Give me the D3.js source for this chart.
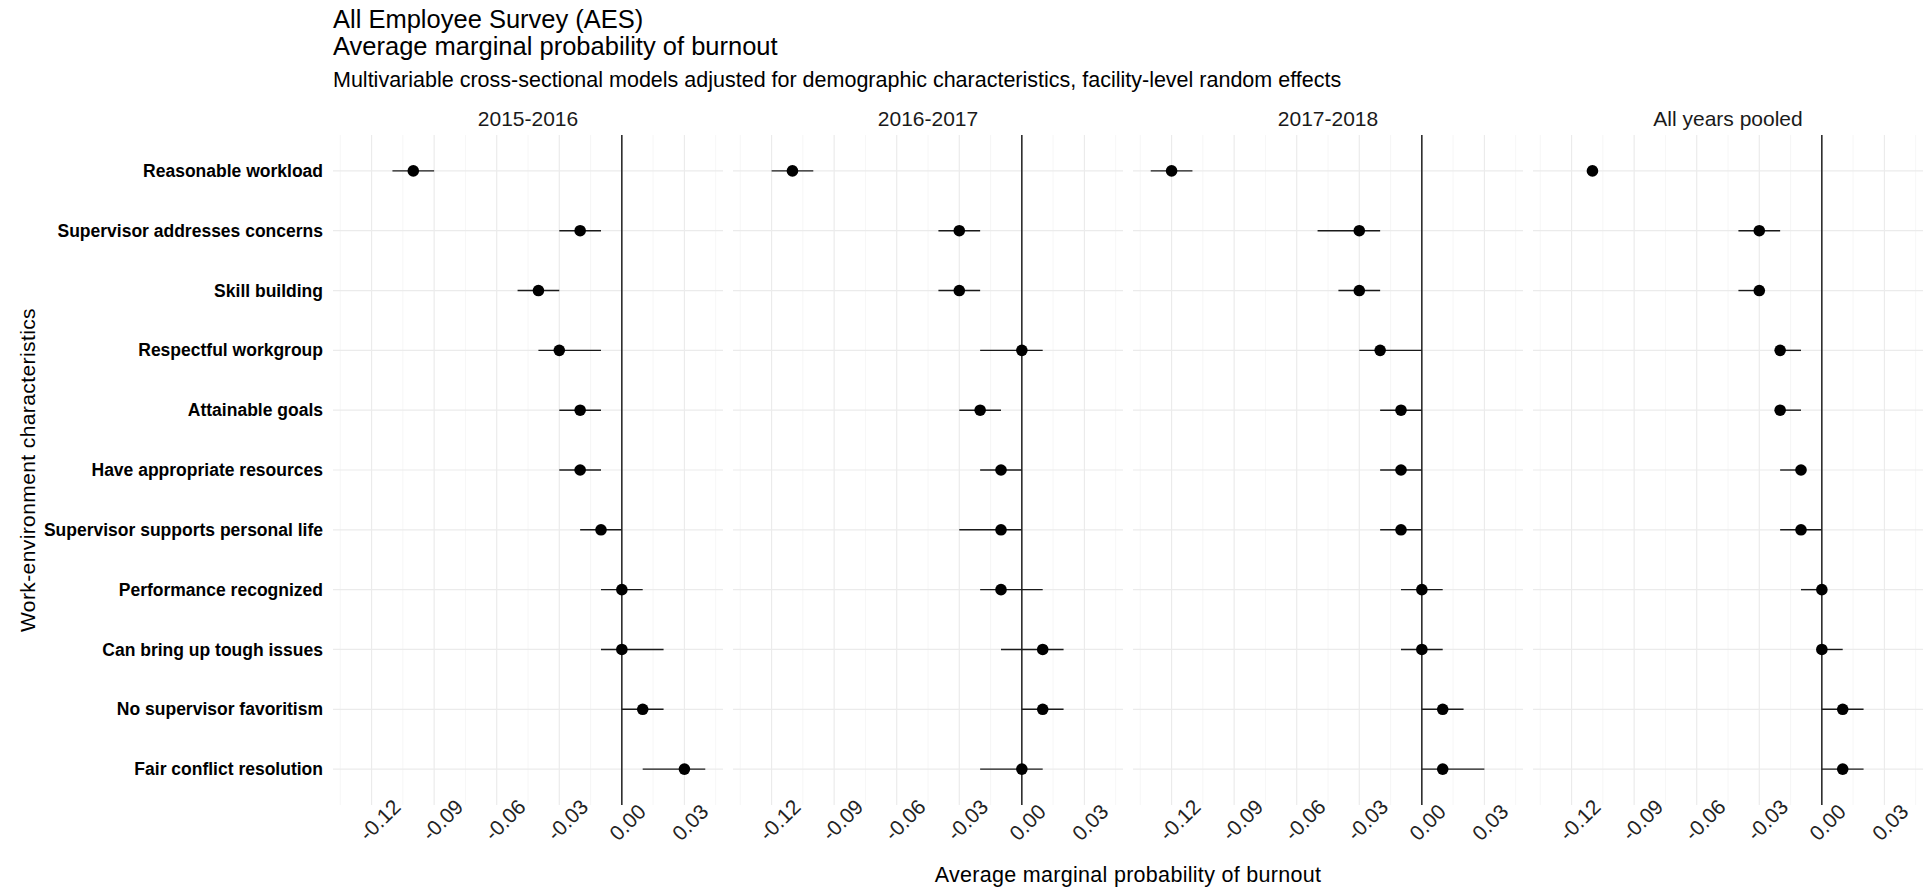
<!DOCTYPE html>
<html>
<head>
<meta charset="utf-8">
<title>AES burnout forest plot</title>
<script src="https://d3js.org/d3.v7.min.js"></script>
<style>
  body { margin: 0; background: #fff; }
  text { font-family: "Liberation Sans", Arial, sans-serif; fill: #000; }
  .ylab { font-weight: bold; font-size: 17.5px; }
  .tick-x { font-size: 21px; fill: #222; }
</style>
</head>
<body>
<svg width="1929" height="889"></svg>
<script>
// categories, top to bottom
const categories = [
  "Reasonable workload", "Supervisor addresses concerns", "Skill building",
  "Respectful workgroup", "Attainable goals", "Have appropriate resources",
  "Supervisor supports personal life", "Performance recognized",
  "Can bring up tough issues", "No supervisor favoritism", "Fair conflict resolution"
];
const panelNames = ["2015-2016", "2016-2017", "2017-2018", "All years pooled"];

// estimates and 95% CI per panel
const est2015 = [-0.10, -0.02, -0.04, -0.03, -0.02, -0.02, -0.01, 0.00, 0.00, 0.01, 0.03];
const lo2015  = [-0.11, -0.03, -0.05, -0.04, -0.03, -0.03, -0.02, -0.01, -0.01, 0.00, 0.01];
const hi2015  = [-0.09, -0.01, -0.03, -0.01, -0.01, -0.01, 0.00, 0.01, 0.02, 0.02, 0.04];

const est2016 = [-0.11, -0.03, -0.03, 0.00, -0.02, -0.01, -0.01, -0.01, 0.01, 0.01, 0.00];
const lo2016  = [-0.12, -0.04, -0.04, -0.02, -0.03, -0.02, -0.03, -0.02, -0.01, 0.00, -0.02];
const hi2016  = [-0.10, -0.02, -0.02, 0.01, -0.01, 0.00, 0.00, 0.01, 0.02, 0.02, 0.01];

const est2017 = [-0.12, -0.03, -0.03, -0.02, -0.01, -0.01, -0.01, 0.00, 0.00, 0.01, 0.01];
const lo2017  = [-0.13, -0.05, -0.04, -0.03, -0.02, -0.02, -0.02, -0.01, -0.01, 0.00, 0.00];
const hi2017  = [-0.11, -0.02, -0.02, 0.00, 0.00, 0.00, 0.00, 0.01, 0.01, 0.02, 0.03];

const estPool = [-0.11, -0.03, -0.03, -0.02, -0.02, -0.01, -0.01, 0.00, 0.00, 0.01, 0.01];
const loPool  = [-0.11, -0.04, -0.04, -0.02, -0.02, -0.02, -0.02, -0.01, 0.00, 0.00, 0.00];
const hiPool  = [-0.11, -0.02, -0.03, -0.01, -0.01, -0.01, 0.00, 0.00, 0.01, 0.02, 0.02];

const tickValues = [-0.12, -0.09, -0.06, -0.03, 0.00, 0.03];
const tickLabels = ["-0.12", "-0.09", "-0.06", "-0.03", "0.00", "0.03"];

const series = [
  { est: est2015, lo: lo2015, hi: hi2015 },
  { est: est2016, lo: lo2016, hi: hi2016 },
  { est: est2017, lo: lo2017, hi: hi2017 },
  { est: estPool, lo: loPool, hi: hiPool }
];

const svg = d3.select("svg");

// layout
const panelLeft = 333, panelW = 390, gap = 10, panelTop = 135, panelBottom = 805;

// shared x domain: data extent with 5% padding (like ggplot)
const all = series.flatMap(s => s.lo.concat(s.hi));
const ext = d3.extent(all);
const pad = (ext[1] - ext[0]) * 0.05;
const x = d3.scaleLinear().domain([ext[0] - pad, ext[1] + pad]).range([0, panelW]);

const y = d3.scalePoint().domain(categories).range([panelTop, panelBottom]).padding(0.6);

const minor = tickValues.map(t => t - 0.015).concat([tickValues[tickValues.length - 1] + 0.015])
  .filter(v => v >= x.domain()[0] && v <= x.domain()[1]);

series.forEach((s, p) => {
  const g = svg.append("g").attr("transform", `translate(${panelLeft + p * (panelW + gap)},0)`);

  // minor grid
  g.selectAll(".vminor").data(minor).enter().append("line")
    .attr("x1", d => x(d)).attr("x2", d => x(d))
    .attr("y1", panelTop).attr("y2", panelBottom)
    .attr("stroke", "#f4f4f4").attr("stroke-width", 0.8);
  // major grid
  g.selectAll(".vmajor").data(tickValues).enter().append("line")
    .attr("x1", d => x(d)).attr("x2", d => x(d))
    .attr("y1", panelTop).attr("y2", panelBottom)
    .attr("stroke", "#ebebeb").attr("stroke-width", 1.2);
  g.selectAll(".hmajor").data(categories).enter().append("line")
    .attr("x1", 0).attr("x2", panelW)
    .attr("y1", d => y(d)).attr("y2", d => y(d))
    .attr("stroke", "#ebebeb").attr("stroke-width", 1.2);

  // zero reference line
  g.append("line")
    .attr("x1", x(0)).attr("x2", x(0)).attr("y1", panelTop).attr("y2", panelBottom)
    .attr("stroke", "#000").attr("stroke-width", 1.3);

  // CIs
  g.selectAll(".ci").data(categories).enter().append("line")
    .attr("x1", (d, i) => x(s.lo[i])).attr("x2", (d, i) => x(s.hi[i]))
    .attr("y1", d => y(d)).attr("y2", d => y(d))
    .attr("stroke", "#1a1a1a").attr("stroke-width", 1.4);

  // points
  g.selectAll(".pt").data(categories).enter().append("circle")
    .attr("cx", (d, i) => x(s.est[i])).attr("cy", d => y(d))
    .attr("r", 5.8).attr("fill", "#000");

  // panel title
  g.append("text")
    .attr("x", panelW / 2).attr("y", 126)
    .attr("text-anchor", "middle")
    .style("font-size", "21px").style("fill", "#1a1a1a")
    .text(panelNames[p]);

  // x axis
  const ax = g.append("g").attr("transform", `translate(0,${panelBottom})`)
    .call(d3.axisBottom(x).tickValues(tickValues).tickSize(0)
      .tickFormat((d, i) => tickLabels[i]));
  ax.select(".domain").remove();
  ax.selectAll("text")
    .attr("class", "tick-x")
    .attr("y", null).attr("dy", null)
    .attr("text-anchor", "start")
    .attr("transform", "translate(-4,37) rotate(-45)")
    .style("font-size", "21px").style("font-family", "'Liberation Sans', Arial, sans-serif");

  // y axis on first panel
  if (p === 0) {
    const ay = g.append("g")
      .call(d3.axisLeft(y).tickSize(0).tickPadding(10));
    ay.select(".domain").remove();
    ay.selectAll("text").attr("class", "ylab")
      .style("font-family", "'Liberation Sans', Arial, sans-serif").attr("fill", "#000");
  }
});

// titles
svg.append("text").attr("x", panelLeft).attr("y", 28)
  .style("font-size", "25.5px")
  .text("All Employee Survey (AES)");
svg.append("text").attr("x", panelLeft).attr("y", 55)
  .style("font-size", "25.5px")
  .text("Average marginal probability of burnout");
svg.append("text").attr("x", panelLeft).attr("y", 87)
  .style("font-size", "21.5px")
  .text("Multivariable cross-sectional models adjusted for demographic characteristics, facility-level random effects");

// axis titles
svg.append("text")
  .attr("x", panelLeft + (4 * panelW + 3 * gap) / 2).attr("y", 882)
  .attr("text-anchor", "middle")
  .style("font-size", "21.5px").style("letter-spacing", "0.3px")
  .text("Average marginal probability of burnout");
svg.append("text")
  .attr("transform", `translate(35,${(panelTop + panelBottom) / 2}) rotate(-90)`)
  .attr("text-anchor", "middle")
  .style("font-size", "21px").style("letter-spacing", "0.4px")
  .text("Work-environment characteristics");
</script>
</body>
</html>
